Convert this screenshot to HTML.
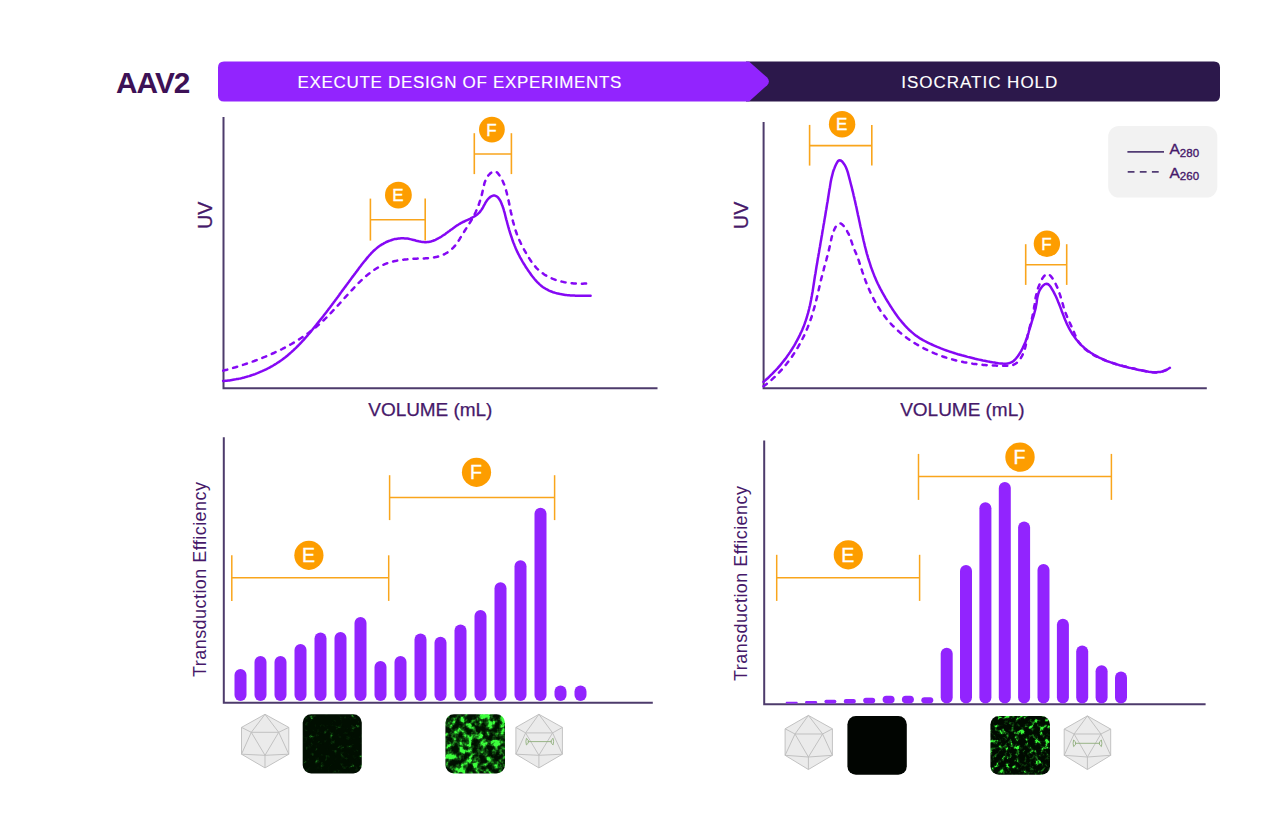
<!DOCTYPE html>
<html><head><meta charset="utf-8"><style>
html,body{margin:0;padding:0;background:#fff;width:1280px;height:818px;overflow:hidden}
svg{display:block;font-family:"Liberation Sans",sans-serif}
</style></head><body>
<svg width="1280" height="818" viewBox="0 0 1280 818">
<text x="116" y="92.6" font-size="29.8" font-weight="bold" fill="#3d1156" letter-spacing="-0.95">AAV2</text>
<path d="M746,61.4 H1214 Q1220,61.4 1220,67.4 V95.4 Q1220,101.4 1214,101.4 H746 Z" fill="#2c184b"/>
<path d="M224,61.4 L749,61.4 L767.2,77.6 Q770.6,81.4 767.2,85.2 L749,101.4 L224,101.4 Q218,101.4 218,95.4 L218,67.4 Q218,61.4 224,61.4 Z" fill="#9224fe"/>
<text x="297.6" y="87.8" font-size="17" fill="#fff" stroke="#fff" stroke-width="0.15" letter-spacing="0.67">EXECUTE DESIGN OF EXPERIMENTS</text>
<text x="901.2" y="87.8" font-size="17" fill="#fff" stroke="#fff" stroke-width="0.15" letter-spacing="0.99">ISOCRATIC HOLD</text>
<path d="M223.5,117 V388.3 H657.5" fill="none" stroke="#4d3b6c" stroke-width="2"/>
<text transform="translate(211.6,228.8) rotate(-90)" font-size="19.5" fill="#46196a" stroke="#46196a" stroke-width="0.3">UV</text>
<text x="368.3" y="416.2" font-size="19" fill="#46196a" stroke="#46196a" stroke-width="0.25" letter-spacing="-0.05">VOLUME (mL)</text>
<path d="M223.1,381.0 L224.3,380.9 L225.6,380.8 L226.8,380.7 L228.1,380.5 L229.4,380.4 L230.6,380.2 L231.9,380.0 L233.1,379.8 L234.4,379.6 L235.6,379.4 L236.8,379.1 L238.1,378.9 L239.3,378.6 L240.5,378.4 L241.8,378.1 L243.0,377.8 L244.2,377.5 L245.4,377.1 L246.7,376.8 L247.9,376.4 L249.1,376.1 L250.3,375.7 L251.5,375.3 L252.7,374.9 L253.9,374.5 L255.1,374.1 L256.2,373.6 L257.4,373.2 L258.6,372.7 L259.7,372.2 L260.9,371.7 L262.1,371.2 L263.2,370.7 L264.3,370.2 L265.5,369.6 L266.6,369.1 L267.7,368.5 L268.9,367.9 L270.0,367.3 L271.1,366.7 L272.2,366.1 L273.2,365.5 L274.3,364.8 L275.4,364.2 L276.5,363.5 L277.5,362.8 L278.6,362.1 L279.6,361.4 L280.6,360.7 L281.7,360.0 L282.7,359.3 L283.7,358.5 L284.7,357.7 L285.7,357.0 L286.6,356.2 L287.6,355.4 L288.6,354.6 L289.5,353.8 L290.5,352.9 L291.4,352.1 L292.3,351.3 L293.3,350.4 L294.2,349.5 L295.1,348.7 L296.0,347.8 L296.9,346.9 L297.8,346.0 L298.7,345.1 L299.6,344.2 L300.4,343.3 L301.3,342.4 L302.2,341.4 L303.0,340.5 L303.9,339.6 L304.7,338.6 L305.6,337.7 L306.4,336.7 L307.2,335.8 L308.1,334.8 L308.9,333.8 L309.7,332.9 L310.5,331.9 L311.3,330.9 L312.1,330.0 L312.9,329.0 L313.7,328.0 L314.5,327.0 L315.3,326.0 L316.1,325.1 L316.9,324.1 L317.7,323.1 L318.5,322.1 L319.3,321.1 L320.1,320.1 L320.9,319.1 L321.6,318.2 L322.4,317.2 L323.2,316.2 L323.9,315.2 L324.7,314.2 L325.5,313.2 L326.3,312.2 L327.0,311.2 L327.8,310.2 L328.5,309.2 L329.3,308.2 L330.1,307.2 L330.8,306.2 L331.6,305.2 L332.3,304.2 L333.1,303.2 L333.8,302.2 L334.6,301.2 L335.3,300.2 L336.1,299.2 L336.8,298.2 L337.6,297.2 L338.3,296.2 L339.1,295.2 L339.8,294.1 L340.6,293.1 L341.3,292.1 L342.0,291.1 L342.8,290.1 L343.5,289.1 L344.3,288.1 L345.0,287.1 L345.8,286.1 L346.5,285.0 L347.3,284.0 L348.0,283.0 L348.8,282.0 L349.5,281.0 L350.2,280.0 L351.0,279.0 L351.7,277.9 L352.5,276.9 L353.3,275.9 L354.0,274.9 L354.8,273.9 L355.5,272.9 L356.3,271.9 L357.0,270.9 L357.8,269.9 L358.6,268.8 L359.3,267.8 L360.1,266.8 L360.9,265.8 L361.6,264.8 L362.4,263.8 L363.2,262.8 L364.0,261.8 L364.8,260.8 L365.6,259.9 L366.4,258.9 L367.2,257.9 L368.0,256.9 L368.8,256.0 L369.6,255.0 L370.5,254.1 L371.3,253.2 L372.2,252.3 L373.1,251.4 L374.0,250.5 L374.9,249.7 L375.9,248.9 L376.8,248.1 L377.8,247.3 L378.8,246.5 L379.8,245.8 L380.9,245.1 L382.0,244.4 L383.1,243.8 L384.2,243.1 L385.3,242.6 L386.4,242.0 L387.6,241.5 L388.8,241.0 L390.0,240.6 L391.2,240.2 L392.4,239.8 L393.6,239.4 L394.8,239.1 L396.1,238.9 L397.3,238.7 L398.6,238.5 L399.8,238.4 L401.1,238.3 L402.3,238.3 L403.6,238.3 L404.9,238.4 L406.1,238.5 L407.4,238.6 L408.7,238.8 L409.9,239.1 L411.2,239.4 L412.4,239.7 L413.7,240.0 L415.0,240.3 L416.2,240.7 L417.4,241.0 L418.7,241.3 L419.9,241.5 L421.2,241.8 L422.4,242.0 L423.6,242.1 L424.8,242.2 L426.0,242.2 L427.3,242.1 L428.5,242.0 L429.7,241.7 L430.9,241.5 L432.0,241.1 L433.2,240.7 L434.4,240.3 L435.5,239.8 L436.7,239.2 L437.8,238.6 L438.9,238.0 L440.1,237.4 L441.2,236.7 L442.2,236.0 L443.3,235.3 L444.4,234.6 L445.4,233.9 L446.4,233.1 L447.4,232.4 L448.5,231.6 L449.5,230.9 L450.5,230.1 L451.5,229.4 L452.5,228.7 L453.5,227.9 L454.5,227.2 L455.5,226.5 L456.5,225.8 L457.6,225.1 L458.6,224.5 L459.7,223.8 L460.8,223.2 L461.9,222.6 L463.0,222.0 L464.2,221.5 L465.3,220.9 L466.5,220.4 L467.7,219.9 L468.8,219.3 L470.0,218.8 L471.1,218.2 L472.2,217.6 L473.3,217.0 L474.4,216.4 L475.5,215.7 L476.5,215.0 L477.5,214.2 L478.4,213.4 L479.3,212.6 L480.1,211.6 L480.9,210.6 L481.6,209.6 L482.3,208.5 L483.0,207.3 L483.6,206.2 L484.2,205.0 L484.9,203.8 L485.5,202.7 L486.2,201.6 L486.9,200.5 L487.7,199.5 L488.5,198.5 L489.4,197.7 L490.4,196.9 L491.4,196.3 L492.4,195.9 L493.5,195.6 L494.5,195.6 L495.6,195.9 L496.5,196.3 L497.5,197.0 L498.3,197.8 L499.1,198.9 L499.8,200.0 L500.5,201.2 L501.1,202.5 L501.6,203.7 L502.1,205.0 L502.6,206.2 L503.0,207.5 L503.4,208.7 L503.8,209.9 L504.1,211.1 L504.5,212.3 L504.8,213.5 L505.1,214.8 L505.4,216.0 L505.7,217.2 L506.0,218.4 L506.3,219.6 L506.7,220.8 L507.0,222.0 L507.3,223.2 L507.6,224.4 L508.0,225.6 L508.3,226.9 L508.7,228.1 L509.0,229.3 L509.4,230.5 L509.7,231.7 L510.1,232.9 L510.5,234.1 L510.9,235.3 L511.3,236.5 L511.7,237.7 L512.1,238.9 L512.5,240.1 L512.9,241.3 L513.3,242.4 L513.8,243.6 L514.3,244.8 L514.7,245.9 L515.2,247.1 L515.7,248.3 L516.2,249.4 L516.7,250.5 L517.2,251.7 L517.8,252.8 L518.3,253.9 L518.9,255.0 L519.5,256.1 L520.1,257.3 L520.7,258.3 L521.3,259.4 L521.9,260.5 L522.5,261.6 L523.2,262.7 L523.8,263.8 L524.5,264.8 L525.2,265.9 L525.8,267.0 L526.5,268.0 L527.3,269.1 L528.0,270.2 L528.7,271.2 L529.4,272.3 L530.2,273.3 L530.9,274.4 L531.7,275.4 L532.5,276.5 L533.3,277.5 L534.1,278.5 L534.9,279.5 L535.7,280.4 L536.6,281.4 L537.5,282.3 L538.4,283.2 L539.3,284.1 L540.2,284.9 L541.2,285.7 L542.1,286.5 L543.1,287.2 L544.2,287.9 L545.2,288.5 L546.3,289.2 L547.4,289.7 L548.5,290.3 L549.6,290.8 L550.7,291.3 L551.9,291.7 L553.0,292.2 L554.2,292.5 L555.4,292.9 L556.6,293.2 L557.9,293.6 L559.1,293.8 L560.3,294.1 L561.6,294.3 L562.8,294.5 L564.1,294.7 L565.4,294.9 L566.6,295.1 L567.9,295.2 L569.2,295.3 L570.5,295.4 L571.8,295.5 L573.1,295.6 L574.3,295.6 L575.6,295.7 L576.9,295.7 L578.2,295.8 L579.4,295.8 L580.7,295.8 L582.0,295.8 L583.2,295.8 L584.5,295.8 L585.7,295.7 L586.9,295.7 L588.2,295.7 L589.4,295.7 L590.6,295.7" fill="none" stroke="#8508f4" stroke-width="2.5" stroke-linecap="round"/>
<path d="M223.2,370.7 L224.4,370.3 L225.7,370.0 L226.9,369.7 L228.1,369.3 L229.4,369.0 L230.6,368.6 L231.9,368.3 L233.1,367.9 L234.4,367.5 L235.6,367.2 L236.9,366.8 L238.1,366.4 L239.4,366.0 L240.6,365.6 L241.9,365.2 L243.1,364.8 L244.4,364.4 L245.6,364.0 L246.8,363.6 L248.1,363.2 L249.3,362.8 L250.6,362.3 L251.8,361.9 L253.1,361.4 L254.3,361.0 L255.5,360.5 L256.8,360.1 L258.0,359.6 L259.2,359.1 L260.5,358.7 L261.7,358.2 L262.9,357.7 L264.1,357.2 L265.4,356.7 L266.6,356.2 L267.8,355.7 L269.0,355.1 L270.2,354.6 L271.4,354.1 L272.6,353.5 L273.8,353.0 L275.0,352.4 L276.2,351.9 L277.4,351.3 L278.6,350.7 L279.8,350.2 L281.0,349.6 L282.2,349.0 L283.3,348.4 L284.5,347.8 L285.7,347.2 L286.8,346.5 L288.0,345.9 L289.1,345.3 L290.3,344.6 L291.4,344.0 L292.6,343.3 L293.7,342.7 L294.8,342.0 L296.0,341.3 L297.1,340.6 L298.2,339.9 L299.3,339.2 L300.4,338.5 L301.5,337.8 L302.6,337.1 L303.7,336.4 L304.7,335.6 L305.8,334.9 L306.9,334.1 L307.9,333.4 L309.0,332.6 L310.0,331.8 L311.1,331.0 L312.1,330.2 L313.1,329.4 L314.1,328.6 L315.1,327.8 L316.1,327.0 L317.1,326.1 L318.1,325.3 L319.1,324.4 L320.1,323.6 L321.0,322.7 L322.0,321.8 L322.9,320.9 L323.9,320.0 L324.8,319.1 L325.8,318.2 L326.7,317.3 L327.6,316.4 L328.5,315.5 L329.4,314.5 L330.3,313.6 L331.2,312.6 L332.1,311.7 L333.0,310.7 L333.9,309.8 L334.8,308.8 L335.7,307.9 L336.6,306.9 L337.5,305.9 L338.4,305.0 L339.2,304.0 L340.1,303.0 L341.0,302.0 L341.9,301.0 L342.8,300.1 L343.6,299.1 L344.5,298.1 L345.4,297.1 L346.3,296.1 L347.2,295.2 L348.1,294.2 L349.0,293.2 L349.9,292.2 L350.8,291.2 L351.7,290.3 L352.6,289.3 L353.5,288.3 L354.4,287.4 L355.3,286.4 L356.2,285.4 L357.2,284.5 L358.1,283.5 L359.0,282.6 L360.0,281.7 L361.0,280.7 L361.9,279.8 L362.9,278.9 L363.9,278.0 L364.9,277.2 L365.8,276.3 L366.8,275.4 L367.9,274.6 L368.9,273.8 L369.9,273.0 L370.9,272.2 L372.0,271.4 L373.1,270.7 L374.1,269.9 L375.2,269.2 L376.3,268.5 L377.4,267.9 L378.5,267.2 L379.6,266.6 L380.8,266.0 L381.9,265.4 L383.1,264.9 L384.3,264.4 L385.5,263.9 L386.7,263.4 L387.9,263.0 L389.1,262.6 L390.3,262.2 L391.6,261.8 L392.9,261.5 L394.1,261.2 L395.4,260.9 L396.7,260.7 L398.0,260.4 L399.3,260.2 L400.6,260.0 L401.9,259.8 L403.3,259.7 L404.6,259.5 L405.9,259.4 L407.2,259.3 L408.6,259.1 L409.9,259.0 L411.3,258.9 L412.6,258.9 L413.9,258.8 L415.3,258.7 L416.6,258.7 L417.9,258.6 L419.3,258.6 L420.6,258.5 L421.9,258.5 L423.2,258.4 L424.5,258.4 L425.8,258.3 L427.1,258.2 L428.4,258.1 L429.7,258.0 L431.0,257.9 L432.2,257.7 L433.5,257.5 L434.7,257.3 L436.0,257.1 L437.2,256.8 L438.5,256.5 L439.7,256.1 L440.9,255.7 L442.1,255.2 L443.3,254.7 L444.5,254.2 L445.6,253.5 L446.8,252.9 L448.0,252.1 L449.1,251.3 L450.2,250.5 L451.3,249.6 L452.3,248.6 L453.3,247.7 L454.2,246.7 L455.1,245.7 L455.9,244.6 L456.7,243.6 L457.4,242.5 L458.1,241.5 L458.8,240.4 L459.5,239.3 L460.1,238.2 L460.8,237.1 L461.4,236.0 L462.1,234.9 L462.8,233.8 L463.5,232.7 L464.2,231.6 L464.9,230.5 L465.6,229.4 L466.3,228.3 L467.0,227.1 L467.8,226.0 L468.5,224.9 L469.2,223.8 L469.9,222.6 L470.6,221.5 L471.3,220.4 L472.0,219.2 L472.6,218.1 L473.2,217.0 L473.8,215.8 L474.4,214.7 L475.0,213.5 L475.6,212.3 L476.1,211.1 L476.6,210.0 L477.2,208.8 L477.6,207.6 L478.1,206.4 L478.6,205.2 L479.0,204.0 L479.4,202.7 L479.8,201.5 L480.2,200.3 L480.6,199.0 L481.0,197.7 L481.3,196.5 L481.7,195.2 L482.0,193.9 L482.3,192.6 L482.6,191.3 L482.9,190.0 L483.2,188.6 L483.4,187.3 L483.8,186.0 L484.1,184.7 L484.4,183.4 L484.8,182.1 L485.3,180.9 L485.8,179.7 L486.3,178.5 L487.0,177.4 L487.7,176.3 L488.5,175.2 L489.4,174.3 L490.4,173.3 L491.5,172.5 L492.6,171.8 L493.8,171.4 L494.9,171.3 L495.9,171.7 L496.9,172.3 L497.8,173.2 L498.6,174.2 L499.4,175.3 L500.1,176.4 L500.8,177.5 L501.5,178.6 L502.1,179.8 L502.7,181.0 L503.2,182.2 L503.7,183.4 L504.2,184.6 L504.7,185.8 L505.1,187.1 L505.5,188.4 L505.9,189.6 L506.2,190.9 L506.6,192.2 L506.9,193.5 L507.2,194.8 L507.5,196.1 L507.8,197.4 L508.1,198.7 L508.4,200.0 L508.7,201.3 L509.0,202.6 L509.2,203.9 L509.5,205.2 L509.8,206.5 L510.0,207.8 L510.3,209.1 L510.6,210.4 L510.8,211.7 L511.1,212.9 L511.4,214.2 L511.7,215.5 L511.9,216.8 L512.2,218.0 L512.5,219.3 L512.8,220.6 L513.1,221.8 L513.5,223.1 L513.8,224.3 L514.1,225.6 L514.5,226.8 L514.9,228.1 L515.3,229.3 L515.6,230.5 L516.1,231.8 L516.5,233.0 L516.9,234.2 L517.4,235.4 L517.9,236.6 L518.4,237.8 L518.9,239.0 L519.4,240.2 L520.0,241.4 L520.5,242.6 L521.1,243.8 L521.7,244.9 L522.3,246.1 L522.9,247.3 L523.5,248.5 L524.1,249.6 L524.8,250.8 L525.4,252.0 L526.1,253.1 L526.8,254.3 L527.4,255.4 L528.1,256.6 L528.8,257.7 L529.6,258.9 L530.3,260.0 L531.0,261.1 L531.8,262.2 L532.6,263.2 L533.4,264.3 L534.2,265.3 L535.0,266.3 L535.9,267.3 L536.8,268.3 L537.7,269.2 L538.7,270.1 L539.6,270.9 L540.6,271.8 L541.6,272.6 L542.7,273.3 L543.7,274.1 L544.8,274.8 L545.9,275.4 L547.1,276.1 L548.2,276.7 L549.4,277.3 L550.6,277.8 L551.8,278.4 L553.0,278.9 L554.2,279.3 L555.4,279.8 L556.7,280.2 L558.0,280.6 L559.2,281.0 L560.5,281.3 L561.8,281.6 L563.1,281.9 L564.4,282.2 L565.7,282.4 L567.0,282.7 L568.4,282.9 L569.7,283.0 L571.0,283.2 L572.3,283.3 L573.7,283.5 L575.0,283.5 L576.3,283.6 L577.7,283.7 L579.0,283.7 L580.3,283.7 L581.6,283.7 L582.9,283.7 L584.2,283.6 L585.5,283.6 L586.8,283.5 L588.0,283.4 L589.3,283.3 L590.5,283.2" fill="none" stroke="#8508f4" stroke-width="2.5" stroke-dasharray="4.2 6.1" stroke-linecap="round"/>
<g stroke="#f9a51c" stroke-width="1.6" fill="none"><line x1="370.4" y1="198.6" x2="370.4" y2="240.6"/><line x1="425.2" y1="198.6" x2="425.2" y2="240.6"/><line x1="370.4" y1="219.7" x2="425.2" y2="219.7"/></g><circle cx="398.4" cy="195.1" r="13.4" fill="#fd9d00"/><text x="397.9" y="201.3" text-anchor="middle" font-size="17" fill="#fff" stroke="#fff" stroke-width="0.35">E</text>
<g stroke="#f9a51c" stroke-width="1.6" fill="none"><line x1="474.3" y1="133.2" x2="474.3" y2="174.1"/><line x1="511.4" y1="133.2" x2="511.4" y2="174.1"/><line x1="474.3" y1="154" x2="511.4" y2="154"/></g><circle cx="491.9" cy="129.6" r="12.9" fill="#fd9d00"/><text x="491.4" y="135.8" text-anchor="middle" font-size="17" fill="#fff" stroke="#fff" stroke-width="0.35">F</text>
<path d="M763.6,122 V388.2 H1206.8" fill="none" stroke="#4d3b6c" stroke-width="2"/>
<text transform="translate(748.4,228.9) rotate(-90)" font-size="19.5" fill="#46196a" stroke="#46196a" stroke-width="0.3">UV</text>
<text x="900.2" y="416.1" font-size="19" fill="#46196a" stroke="#46196a" stroke-width="0.25" letter-spacing="-0.02">VOLUME (mL)</text>
<path d="M763.5,381.9 L765.0,380.6 L766.5,379.3 L768.0,378.0 L769.4,376.6 L770.8,375.2 L772.2,373.9 L773.6,372.4 L775.0,371.0 L776.4,369.5 L777.7,368.1 L779.0,366.6 L780.3,365.1 L781.6,363.5 L782.8,362.0 L784.1,360.4 L785.3,358.9 L786.5,357.3 L787.6,355.6 L788.8,354.0 L789.9,352.4 L791.0,350.7 L792.1,349.0 L793.1,347.3 L794.2,345.6 L795.2,343.9 L796.1,342.2 L797.1,340.4 L798.0,338.7 L798.9,336.9 L799.8,335.1 L800.6,333.3 L801.5,331.5 L802.3,329.7 L803.0,327.9 L803.8,326.0 L804.5,324.2 L805.1,322.3 L805.8,320.4 L806.4,318.6 L807.0,316.7 L807.5,314.8 L808.1,312.9 L808.6,310.9 L809.1,309.0 L809.5,307.1 L810.0,305.2 L810.4,303.2 L810.8,301.3 L811.2,299.3 L811.5,297.4 L811.9,295.4 L812.2,293.5 L812.6,291.5 L812.9,289.6 L813.2,287.6 L813.5,285.6 L813.8,283.7 L814.1,281.7 L814.4,279.7 L814.7,277.8 L815.0,275.8 L815.4,273.8 L815.7,271.9 L816.0,269.9 L816.3,268.0 L816.6,266.0 L817.0,264.1 L817.3,262.1 L817.6,260.2 L817.9,258.2 L818.3,256.3 L818.6,254.3 L819.0,252.4 L819.3,250.4 L819.6,248.4 L820.0,246.5 L820.3,244.5 L820.6,242.6 L821.0,240.6 L821.3,238.7 L821.6,236.7 L822.0,234.7 L822.3,232.8 L822.6,230.8 L823.0,228.9 L823.3,226.9 L823.6,224.9 L824.0,223.0 L824.3,221.0 L824.6,219.1 L825.0,217.1 L825.3,215.2 L825.6,213.2 L825.9,211.2 L826.3,209.3 L826.6,207.3 L826.9,205.4 L827.2,203.4 L827.6,201.5 L827.9,199.5 L828.2,197.5 L828.5,195.6 L828.8,193.6 L829.1,191.7 L829.4,189.7 L829.8,187.8 L830.1,185.9 L830.4,183.9 L830.7,182.0 L831.1,180.0 L831.5,178.1 L832.0,176.1 L832.5,174.2 L833.0,172.2 L833.6,170.3 L834.4,168.4 L835.1,166.4 L836.0,164.5 L837.0,162.6 L838.1,161.0 L839.3,160.2 L840.7,160.4 L842.1,161.5 L843.5,163.2 L844.8,165.1 L845.8,167.0 L846.6,168.9 L847.3,170.8 L847.9,172.7 L848.4,174.6 L848.9,176.5 L849.4,178.4 L849.9,180.3 L850.4,182.2 L850.9,184.2 L851.4,186.1 L851.9,188.0 L852.3,189.9 L852.8,191.8 L853.3,193.8 L853.7,195.7 L854.2,197.6 L854.6,199.5 L855.1,201.5 L855.5,203.4 L855.9,205.3 L856.4,207.3 L856.8,209.2 L857.2,211.2 L857.6,213.1 L858.0,215.1 L858.5,217.0 L858.9,218.9 L859.3,220.9 L859.7,222.8 L860.1,224.8 L860.5,226.7 L861.0,228.7 L861.4,230.6 L861.8,232.5 L862.2,234.5 L862.7,236.4 L863.1,238.4 L863.5,240.3 L864.0,242.2 L864.5,244.2 L864.9,246.1 L865.4,248.0 L865.9,249.9 L866.4,251.9 L866.9,253.8 L867.5,255.7 L868.0,257.6 L868.6,259.5 L869.2,261.4 L869.8,263.2 L870.4,265.1 L871.0,267.0 L871.7,268.9 L872.4,270.7 L873.1,272.6 L873.8,274.4 L874.5,276.3 L875.3,278.1 L876.1,279.9 L876.9,281.7 L877.7,283.5 L878.6,285.3 L879.5,287.1 L880.4,288.9 L881.4,290.6 L882.3,292.4 L883.3,294.1 L884.3,295.8 L885.3,297.6 L886.3,299.3 L887.3,301.0 L888.3,302.6 L889.4,304.3 L890.4,306.0 L891.5,307.6 L892.5,309.3 L893.6,310.9 L894.7,312.5 L895.9,314.2 L897.0,315.8 L898.2,317.4 L899.4,319.0 L900.7,320.5 L902.0,322.1 L903.3,323.6 L904.6,325.1 L906.0,326.6 L907.4,328.0 L908.8,329.5 L910.2,330.8 L911.7,332.1 L913.2,333.4 L914.8,334.7 L916.4,335.9 L918.0,337.0 L919.6,338.1 L921.3,339.1 L923.0,340.1 L924.7,341.0 L926.4,341.9 L928.2,342.8 L930.0,343.7 L931.8,344.5 L933.6,345.3 L935.4,346.1 L937.2,346.9 L939.1,347.6 L940.9,348.4 L942.8,349.1 L944.7,349.8 L946.5,350.5 L948.4,351.1 L950.3,351.8 L952.2,352.4 L954.1,353.0 L956.0,353.6 L957.9,354.2 L959.9,354.7 L961.8,355.3 L963.7,355.8 L965.6,356.3 L967.5,356.9 L969.5,357.3 L971.4,357.8 L973.3,358.3 L975.2,358.8 L977.1,359.2 L979.0,359.6 L981.0,360.0 L982.9,360.5 L984.8,360.8 L986.7,361.2 L988.6,361.6 L990.5,361.9 L992.5,362.3 L994.5,362.6 L996.5,362.9 L998.5,363.2 L1000.6,363.4 L1002.7,363.6 L1004.8,363.7 L1006.8,363.6 L1008.7,363.3 L1010.6,362.7 L1012.2,361.9 L1013.8,360.7 L1015.2,359.3 L1016.6,357.8 L1017.8,356.2 L1019.0,354.5 L1020.0,352.8 L1021.1,351.1 L1022.0,349.4 L1022.9,347.6 L1023.7,345.8 L1024.5,344.0 L1025.3,342.2 L1026.0,340.3 L1026.6,338.4 L1027.3,336.6 L1027.9,334.7 L1028.5,332.8 L1029.0,330.9 L1029.6,329.0 L1030.2,327.1 L1030.8,325.2 L1031.4,323.2 L1031.9,321.3 L1032.5,319.4 L1033.1,317.5 L1033.7,315.6 L1034.2,313.7 L1034.7,311.8 L1035.2,309.9 L1035.7,307.9 L1036.0,306.0 L1036.4,304.1 L1036.7,302.2 L1036.9,300.2 L1037.2,298.3 L1037.6,296.4 L1038.1,294.4 L1038.7,292.5 L1039.5,290.6 L1040.6,288.7 L1041.9,286.8 L1043.5,285.2 L1045.0,284.1 L1046.6,283.7 L1048.1,284.2 L1049.4,285.3 L1050.7,286.9 L1051.8,288.8 L1052.9,290.7 L1054.0,292.6 L1054.9,294.5 L1055.8,296.3 L1056.7,298.2 L1057.5,300.1 L1058.2,301.9 L1059.0,303.7 L1059.7,305.6 L1060.4,307.4 L1061.1,309.2 L1061.7,311.0 L1062.4,312.8 L1063.1,314.6 L1063.8,316.4 L1064.5,318.2 L1065.2,320.0 L1066.0,321.8 L1066.7,323.6 L1067.6,325.3 L1068.5,327.1 L1069.4,328.9 L1070.4,330.7 L1071.4,332.4 L1072.5,334.2 L1073.7,335.9 L1074.9,337.6 L1076.1,339.2 L1077.4,340.8 L1078.7,342.4 L1080.1,343.9 L1081.5,345.3 L1083.0,346.7 L1084.4,348.0 L1086.0,349.2 L1087.5,350.4 L1089.1,351.6 L1090.7,352.7 L1092.4,353.8 L1094.0,354.8 L1095.7,355.7 L1097.5,356.7 L1099.2,357.6 L1101.0,358.4 L1102.8,359.2 L1104.6,360.0 L1106.4,360.8 L1108.3,361.5 L1110.1,362.1 L1112.0,362.8 L1113.9,363.4 L1115.8,364.0 L1117.7,364.6 L1119.6,365.2 L1121.5,365.7 L1123.4,366.2 L1125.4,366.7 L1127.3,367.2 L1129.2,367.7 L1131.2,368.1 L1133.1,368.6 L1135.1,369.0 L1137.0,369.5 L1139.0,369.9 L1140.9,370.3 L1142.9,370.7 L1144.8,371.1 L1146.8,371.4 L1148.7,371.8 L1150.7,372.0 L1152.6,372.2 L1154.6,372.3 L1156.5,372.3 L1158.4,372.1 L1160.4,371.9 L1162.3,371.4 L1164.2,370.8 L1166.1,370.0 L1168.0,369.0 L1169.9,367.8" fill="none" stroke="#8508f4" stroke-width="2.5" stroke-linecap="round"/>
<path d="M763.5,386.3 L764.9,385.2 L766.3,384.2 L767.7,383.0 L769.1,381.9 L770.4,380.8 L771.8,379.6 L773.1,378.4 L774.4,377.2 L775.6,376.0 L776.9,374.7 L778.1,373.5 L779.4,372.2 L780.6,370.9 L781.8,369.6 L782.9,368.3 L784.1,366.9 L785.2,365.5 L786.3,364.2 L787.4,362.8 L788.5,361.4 L789.6,359.9 L790.6,358.5 L791.6,357.1 L792.7,355.6 L793.6,354.1 L794.6,352.6 L795.6,351.1 L796.5,349.6 L797.4,348.1 L798.3,346.6 L799.2,345.0 L800.1,343.5 L800.9,341.9 L801.7,340.3 L802.5,338.8 L803.3,337.2 L804.1,335.6 L804.9,334.0 L805.6,332.3 L806.3,330.7 L807.0,329.1 L807.7,327.4 L808.3,325.8 L809.0,324.1 L809.6,322.5 L810.2,320.8 L810.8,319.1 L811.4,317.5 L811.9,315.8 L812.4,314.1 L813.0,312.4 L813.4,310.7 L813.9,309.0 L814.4,307.3 L814.9,305.6 L815.3,303.9 L815.7,302.2 L816.2,300.5 L816.6,298.8 L817.0,297.1 L817.4,295.4 L817.8,293.7 L818.2,291.9 L818.6,290.2 L819.0,288.5 L819.4,286.8 L819.8,285.0 L820.2,283.3 L820.6,281.6 L821.0,279.9 L821.4,278.2 L821.9,276.4 L822.3,274.7 L822.7,273.0 L823.2,271.3 L823.7,269.6 L824.1,267.8 L824.6,266.1 L825.1,264.4 L825.5,262.7 L826.0,261.0 L826.5,259.3 L826.9,257.6 L827.4,255.9 L827.8,254.2 L828.3,252.5 L828.7,250.8 L829.1,249.1 L829.5,247.4 L829.9,245.7 L830.3,244.0 L830.6,242.3 L831.0,240.6 L831.3,238.9 L831.7,237.2 L832.2,235.4 L832.7,233.7 L833.3,231.9 L834.1,230.1 L834.9,228.3 L835.9,226.5 L837.0,225.0 L838.1,223.9 L839.4,223.4 L840.7,223.5 L842.0,224.3 L843.3,225.5 L844.6,227.0 L845.8,228.8 L846.8,230.5 L847.7,232.3 L848.6,233.9 L849.3,235.6 L849.9,237.2 L850.5,238.9 L851.1,240.5 L851.7,242.1 L852.2,243.7 L852.8,245.3 L853.4,246.9 L854.1,248.6 L854.7,250.2 L855.4,251.9 L856.1,253.5 L856.7,255.2 L857.4,256.9 L858.0,258.5 L858.6,260.2 L859.2,261.9 L859.7,263.5 L860.3,265.2 L860.8,266.9 L861.3,268.5 L861.9,270.2 L862.4,271.8 L863.0,273.5 L863.5,275.2 L864.1,276.8 L864.7,278.5 L865.3,280.1 L865.9,281.8 L866.6,283.5 L867.3,285.1 L867.9,286.8 L868.6,288.4 L869.4,290.1 L870.1,291.7 L870.8,293.3 L871.6,294.9 L872.4,296.5 L873.2,298.1 L874.0,299.7 L874.9,301.3 L875.8,302.9 L876.7,304.4 L877.6,305.9 L878.5,307.5 L879.5,309.0 L880.4,310.5 L881.4,311.9 L882.4,313.4 L883.5,314.8 L884.6,316.2 L885.6,317.6 L886.7,319.0 L887.9,320.4 L889.0,321.7 L890.2,323.0 L891.4,324.3 L892.6,325.6 L893.9,326.8 L895.1,328.0 L896.4,329.2 L897.7,330.4 L899.0,331.6 L900.3,332.8 L901.7,333.9 L903.0,335.0 L904.4,336.1 L905.8,337.1 L907.2,338.2 L908.7,339.2 L910.1,340.2 L911.6,341.2 L913.1,342.2 L914.6,343.1 L916.1,344.0 L917.6,344.9 L919.1,345.8 L920.7,346.7 L922.2,347.5 L923.8,348.4 L925.4,349.2 L927.0,349.9 L928.6,350.7 L930.2,351.5 L931.8,352.2 L933.4,352.9 L935.1,353.6 L936.7,354.2 L938.4,354.9 L940.1,355.5 L941.7,356.1 L943.4,356.7 L945.1,357.3 L946.8,357.8 L948.5,358.3 L950.2,358.8 L951.9,359.3 L953.6,359.8 L955.3,360.2 L957.1,360.7 L958.8,361.1 L960.5,361.5 L962.2,361.8 L964.0,362.2 L965.7,362.5 L967.5,362.8 L969.2,363.1 L970.9,363.4 L972.7,363.7 L974.4,363.9 L976.2,364.1 L977.9,364.4 L979.7,364.5 L981.4,364.7 L983.2,364.9 L985.0,365.0 L986.7,365.2 L988.5,365.3 L990.3,365.4 L992.0,365.5 L993.8,365.6 L995.6,365.6 L997.4,365.7 L999.2,365.7 L1000.9,365.7 L1002.7,365.8 L1004.5,365.8 L1006.3,365.7 L1008.1,365.7 L1009.8,365.6 L1011.5,365.3 L1013.2,364.9 L1014.7,364.2 L1016.2,363.3 L1017.6,362.1 L1018.8,360.8 L1020.0,359.3 L1021.0,357.7 L1021.9,356.1 L1022.8,354.4 L1023.5,352.7 L1024.1,351.0 L1024.7,349.3 L1025.2,347.6 L1025.6,345.9 L1026.0,344.2 L1026.4,342.5 L1026.7,340.8 L1027.0,339.1 L1027.4,337.4 L1027.7,335.6 L1028.1,333.9 L1028.5,332.2 L1029.0,330.4 L1029.4,328.7 L1029.8,326.9 L1030.3,325.2 L1030.7,323.5 L1031.2,321.7 L1031.6,320.0 L1032.0,318.3 L1032.4,316.6 L1032.8,314.9 L1033.1,313.2 L1033.5,311.5 L1033.7,309.9 L1034.0,308.2 L1034.2,306.6 L1034.5,305.0 L1034.7,303.4 L1034.9,301.7 L1035.2,300.1 L1035.5,298.4 L1035.8,296.7 L1036.2,295.0 L1036.6,293.2 L1037.1,291.4 L1037.6,289.5 L1038.2,287.6 L1039.0,285.7 L1039.8,283.7 L1040.7,281.6 L1041.7,279.7 L1042.7,277.9 L1043.9,276.3 L1045.0,275.1 L1046.2,274.3 L1047.4,274.1 L1048.6,274.4 L1049.9,275.2 L1051.0,276.4 L1052.2,277.9 L1053.3,279.6 L1054.3,281.3 L1055.2,283.0 L1056.0,284.7 L1056.8,286.4 L1057.6,288.1 L1058.2,289.7 L1058.9,291.4 L1059.4,293.1 L1060.0,294.8 L1060.5,296.4 L1061.0,298.1 L1061.5,299.8 L1062.0,301.4 L1062.5,303.1 L1063.0,304.8 L1063.4,306.4 L1063.9,308.1 L1064.5,309.7 L1065.0,311.3 L1065.6,313.0 L1066.3,314.6 L1066.9,316.3 L1067.6,317.9 L1068.3,319.5 L1069.0,321.2 L1069.8,322.8 L1070.5,324.4 L1071.3,326.1 L1072.0,327.7 L1072.7,329.4 L1073.5,331.0 L1074.2,332.7 L1074.8,334.3 L1075.6,336.0 L1076.3,337.6 L1077.1,339.2 L1077.9,340.7 L1078.8,342.2 L1079.9,343.6 L1080.9,345.0 L1082.1,346.3 L1083.3,347.5 L1084.6,348.7 L1086.0,349.9 L1087.4,351.0 L1088.9,352.0 L1090.4,353.0 L1091.9,354.0 L1093.5,354.9 L1095.0,355.8 L1096.6,356.6 L1098.3,357.4 L1099.9,358.2 L1101.5,358.9 L1103.2,359.6 L1104.8,360.3 L1106.5,360.9 L1108.1,361.5 L1109.8,362.1 L1111.5,362.7 L1113.2,363.2 L1114.9,363.8 L1116.5,364.3 L1118.2,364.7 L1119.9,365.2 L1121.6,365.7 L1123.4,366.1 L1125.1,366.5 L1126.8,367.0 L1128.5,367.4 L1130.2,367.8 L1132.0,368.2 L1133.7,368.5 L1135.4,368.9 L1137.1,369.3 L1138.9,369.7 L1140.6,370.1 L1142.3,370.4 L1144.1,370.8 L1145.8,371.2 L1147.6,371.5 L1149.3,371.8 L1151.0,372.1 L1152.8,372.3 L1154.5,372.4 L1156.2,372.4 L1158.0,372.3 L1159.7,372.2 L1161.4,371.8 L1163.1,371.4 L1164.8,370.7 L1166.5,369.9 L1168.2,369.0 L1169.9,367.8" fill="none" stroke="#8508f4" stroke-width="2.5" stroke-dasharray="4.2 6.1" stroke-linecap="round"/>
<g stroke="#f9a51c" stroke-width="1.6" fill="none"><line x1="809.6" y1="124.9" x2="809.6" y2="165.6"/><line x1="871.8" y1="124.9" x2="871.8" y2="165.6"/><line x1="809.6" y1="145.6" x2="871.8" y2="145.6"/></g><circle cx="842.1" cy="124.2" r="13.2" fill="#fd9d00"/><text x="841.6" y="130.4" text-anchor="middle" font-size="17" fill="#fff" stroke="#fff" stroke-width="0.35">E</text>
<g stroke="#f9a51c" stroke-width="1.6" fill="none"><line x1="1025.7" y1="244.2" x2="1025.7" y2="284.9"/><line x1="1066.7" y1="244.2" x2="1066.7" y2="284.9"/><line x1="1025.7" y1="264.7" x2="1066.7" y2="264.7"/></g><circle cx="1046.9" cy="243.8" r="13.2" fill="#fd9d00"/><text x="1046.4" y="250.0" text-anchor="middle" font-size="17" fill="#fff" stroke="#fff" stroke-width="0.35">F</text>
<rect x="1108.2" y="125.9" width="109.1" height="71.7" rx="11" fill="#f2f2f2"/>
<line x1="1127.4" y1="151.9" x2="1164" y2="151.9" stroke="#523c74" stroke-width="1.9"/>
<line x1="1127.7" y1="171.9" x2="1160" y2="171.9" stroke="#523c74" stroke-width="1.9" stroke-dasharray="6.8 5.3"/>
<text x="1169.5" y="154" font-size="15.5" fill="#46196a" stroke="#46196a" stroke-width="0.35">A<tspan font-size="11.5" dy="2.8">280</tspan></text>
<text x="1169.5" y="177.5" font-size="15.5" fill="#46196a" stroke="#46196a" stroke-width="0.35">A<tspan font-size="11.5" dy="2.5">260</tspan></text>
<path d="M223.8,437.2 V702.7 H652.8" fill="none" stroke="#4d3b6c" stroke-width="2"/>
<text transform="translate(206.1,677) rotate(-90)" font-size="18" fill="#46196a" letter-spacing="0.45">Transduction Efficiency</text>
<rect x="234.5" y="669.0" width="12" height="31.9" rx="6.0" fill="#9224fe"/><rect x="254.5" y="656.0" width="12" height="44.9" rx="6.0" fill="#9224fe"/><rect x="274.5" y="656.0" width="12" height="44.9" rx="6.0" fill="#9224fe"/><rect x="294.5" y="644.0" width="12" height="56.9" rx="6.0" fill="#9224fe"/><rect x="314.5" y="632.6" width="12" height="68.3" rx="6.0" fill="#9224fe"/><rect x="334.5" y="632.1" width="12" height="68.8" rx="6.0" fill="#9224fe"/><rect x="354.5" y="617.0" width="12" height="83.9" rx="6.0" fill="#9224fe"/><rect x="374.5" y="661.0" width="12" height="39.9" rx="6.0" fill="#9224fe"/><rect x="394.5" y="656.0" width="12" height="44.9" rx="6.0" fill="#9224fe"/><rect x="414.5" y="633.5" width="12" height="67.4" rx="6.0" fill="#9224fe"/><rect x="434.5" y="636.8" width="12" height="64.1" rx="6.0" fill="#9224fe"/><rect x="454.5" y="624.5" width="12" height="76.4" rx="6.0" fill="#9224fe"/><rect x="474.5" y="610.1" width="12" height="90.8" rx="6.0" fill="#9224fe"/><rect x="494.5" y="582.3" width="12" height="118.6" rx="6.0" fill="#9224fe"/><rect x="514.5" y="560.3" width="12" height="140.6" rx="6.0" fill="#9224fe"/><rect x="534.5" y="507.7" width="12" height="193.2" rx="6.0" fill="#9224fe"/><rect x="554.5" y="685.5" width="12" height="15.4" rx="6.0" fill="#9224fe"/><rect x="574.5" y="685.5" width="12" height="15.4" rx="6.0" fill="#9224fe"/>
<g stroke="#f9a51c" stroke-width="1.5" fill="none"><line x1="231.8" y1="555.3" x2="231.8" y2="600.9"/><line x1="388.7" y1="555.3" x2="388.7" y2="600.9"/><line x1="231.8" y1="577.8" x2="388.7" y2="577.8"/></g><circle cx="308.9" cy="555.3" r="14.6" fill="#fd9d00"/><text x="308.4" y="562.4" text-anchor="middle" font-size="19.5" fill="#fff" stroke="#fff" stroke-width="0.35">E</text>
<g stroke="#f9a51c" stroke-width="1.5" fill="none"><line x1="389.6" y1="475.2" x2="389.6" y2="520.1"/><line x1="554.6" y1="475.2" x2="554.6" y2="520.1"/><line x1="389.6" y1="497.6" x2="554.6" y2="497.6"/></g><circle cx="476.5" cy="472.3" r="14.6" fill="#fd9d00"/><text x="476.0" y="479.4" text-anchor="middle" font-size="19.5" fill="#fff" stroke="#fff" stroke-width="0.35">F</text>
<path d="M764.2,440.6 V704.3 H1205.6" fill="none" stroke="#4d3b6c" stroke-width="2"/>
<text transform="translate(747.4,681) rotate(-90)" font-size="18" fill="#46196a" letter-spacing="0.45">Transduction Efficiency</text>
<rect x="785.7" y="701.7" width="12" height="1.7" rx="0.8" fill="#9224fe"/><rect x="805.1" y="701.0" width="12" height="2.4" rx="1.2" fill="#9224fe"/><rect x="824.4" y="699.8" width="12" height="3.6" rx="1.8" fill="#9224fe"/><rect x="843.8" y="698.9" width="12" height="4.5" rx="2.2" fill="#9224fe"/><rect x="863.2" y="697.8" width="12" height="5.6" rx="2.8" fill="#9224fe"/><rect x="882.6" y="695.8" width="12" height="7.6" rx="3.8" fill="#9224fe"/><rect x="901.9" y="695.8" width="12" height="7.6" rx="3.8" fill="#9224fe"/><rect x="921.3" y="697.3" width="12" height="6.1" rx="3.1" fill="#9224fe"/><rect x="940.7" y="647.8" width="12" height="55.6" rx="6.0" fill="#9224fe"/><rect x="960.0" y="565.0" width="12" height="138.4" rx="6.0" fill="#9224fe"/><rect x="979.4" y="502.3" width="12" height="201.1" rx="6.0" fill="#9224fe"/><rect x="998.8" y="482.1" width="12" height="221.3" rx="6.0" fill="#9224fe"/><rect x="1018.1" y="521.5" width="12" height="181.9" rx="6.0" fill="#9224fe"/><rect x="1037.5" y="563.9" width="12" height="139.5" rx="6.0" fill="#9224fe"/><rect x="1056.9" y="618.7" width="12" height="84.7" rx="6.0" fill="#9224fe"/><rect x="1076.2" y="645.4" width="12" height="58.0" rx="6.0" fill="#9224fe"/><rect x="1095.6" y="665.3" width="12" height="38.1" rx="6.0" fill="#9224fe"/><rect x="1115.0" y="671.4" width="12" height="32.0" rx="6.0" fill="#9224fe"/>
<g stroke="#f9a51c" stroke-width="1.5" fill="none"><line x1="776.7" y1="554.8" x2="776.7" y2="600.9"/><line x1="919.6" y1="554.8" x2="919.6" y2="600.9"/><line x1="776.7" y1="577.8" x2="919.6" y2="577.8"/></g><circle cx="848.3" cy="554.8" r="14.6" fill="#fd9d00"/><text x="847.8" y="561.9" text-anchor="middle" font-size="19.5" fill="#fff" stroke="#fff" stroke-width="0.35">E</text>
<g stroke="#f9a51c" stroke-width="1.5" fill="none"><line x1="918.5" y1="453.9" x2="918.5" y2="499.9"/><line x1="1111.4" y1="453.9" x2="1111.4" y2="499.9"/><line x1="918.5" y1="476.4" x2="1111.4" y2="476.4"/></g><circle cx="1020" cy="457.1" r="14.7" fill="#fd9d00"/><text x="1019.5" y="464.2" text-anchor="middle" font-size="19.5" fill="#fff" stroke="#fff" stroke-width="0.35">F</text>
<polygon points="265.0,714.3 288.8,727.4 288.8,754.2 265.0,767.9 241.5,754.2 241.5,727.4" fill="#ebebeb" stroke="#c2c2c2" stroke-width="1"/><g stroke="#bfbfbf" stroke-width="0.95" fill="none"><line x1="265.0" y1="714.3" x2="251.3" y2="732.3"/><line x1="265.0" y1="714.3" x2="278.7" y2="732.3"/><line x1="241.5" y1="727.4" x2="251.3" y2="732.3"/><line x1="288.8" y1="727.4" x2="278.7" y2="732.3"/><line x1="251.3" y1="732.3" x2="278.7" y2="732.3"/><line x1="251.3" y1="732.3" x2="265.0" y2="755.3"/><line x1="278.7" y1="732.3" x2="265.0" y2="755.3"/><line x1="251.3" y1="732.3" x2="241.5" y2="754.2"/><line x1="278.7" y1="732.3" x2="288.8" y2="754.2"/><line x1="265.0" y1="755.3" x2="241.5" y2="754.2"/><line x1="265.0" y1="755.3" x2="288.8" y2="754.2"/><line x1="265.0" y1="755.3" x2="265.0" y2="767.9"/></g>
<filter id="fc1" x="0" y="0" width="100%" height="100%" color-interpolation-filters="sRGB">
<feTurbulence type="fractalNoise" baseFrequency="0.2" numOctaves="3" seed="11" result="n"/>
<feColorMatrix in="n" type="matrix" values="0 0 0 0 0  0 0 0 0 0  0 0 0 0 0  1 0 0 0 0" result="a"/>
<feComponentTransfer in="a" result="t"><feFuncA type="gamma" amplitude="2.0" exponent="8" offset="-0.01"/></feComponentTransfer>
<feGaussianBlur in="t" stdDeviation="0.5" result="tb"/>
<feFlood flood-color="#2cb02c" result="g"/>
<feComposite in="g" in2="tb" operator="in" result="gg"/>
<feFlood flood-color="#010e01" result="bg"/>
<feMerge><feMergeNode in="bg"/><feMergeNode in="gg"/></feMerge>
<feComposite in2="SourceGraphic" operator="in"/>
</filter><rect x="302.7" y="714.3" width="59.1" height="59.1" rx="8.5" fill="#000" filter="url(#fc1)"/>
<filter id="fc2" x="0" y="0" width="100%" height="100%" color-interpolation-filters="sRGB">
<feTurbulence type="fractalNoise" baseFrequency="0.15" numOctaves="3" seed="4" result="n"/>
<feColorMatrix in="n" type="matrix" values="0 0 0 0 0  0 0 0 0 0  0 0 0 0 0  1 0 0 0 0" result="a"/>
<feComponentTransfer in="a" result="t"><feFuncA type="gamma" amplitude="6" exponent="4.5" offset="-0.05"/></feComponentTransfer>
<feGaussianBlur in="t" stdDeviation="0.4" result="tb"/>
<feFlood flood-color="#3cff3c" result="g"/>
<feComposite in="g" in2="tb" operator="in" result="gg"/>
<feFlood flood-color="#010f01" result="bg"/>
<feMerge><feMergeNode in="bg"/><feMergeNode in="gg"/></feMerge>
<feComposite in2="SourceGraphic" operator="in"/>
</filter><rect x="445.4" y="714.3" width="59.6" height="59.1" rx="8.5" fill="#000" filter="url(#fc2)"/>
<polygon points="538.9,714.3 562.4,727.4 562.4,754.2 538.9,767.9 515.9,754.2 515.9,727.4" fill="#ebebeb" stroke="#c2c2c2" stroke-width="1"/><g stroke="#bfbfbf" stroke-width="0.95" fill="none"><line x1="538.9" y1="714.3" x2="525.6" y2="732.9"/><line x1="538.9" y1="714.3" x2="552.6" y2="732.9"/><line x1="515.9" y1="727.4" x2="525.6" y2="732.9"/><line x1="562.4" y1="727.4" x2="552.6" y2="732.9"/><line x1="525.6" y1="732.9" x2="552.6" y2="732.9"/><line x1="525.6" y1="732.9" x2="538.9" y2="755.3"/><line x1="552.6" y1="732.9" x2="538.9" y2="755.3"/><line x1="525.6" y1="732.9" x2="515.9" y2="754.2"/><line x1="552.6" y1="732.9" x2="562.4" y2="754.2"/><line x1="538.9" y1="755.3" x2="515.9" y2="754.2"/><line x1="538.9" y1="755.3" x2="562.4" y2="754.2"/><line x1="538.9" y1="755.3" x2="538.9" y2="767.9"/></g><g stroke="#8fae7c" stroke-width="0.9" fill="none"><line x1="527.8" y1="741.6" x2="551.7" y2="741.6"/><path d="M526.4,738.3000000000001 Q529.0,740.1 528.4,741.6 Q529.0,743.1 526.4,744.9 Q525.4,741.6 526.4,738.3000000000001 Z"/><path d="M553.1,738.3000000000001 Q550.5,740.1 551.1,741.6 Q550.5,743.1 553.1,744.9 Q554.1,741.6 553.1,738.3000000000001 Z"/></g>
<polygon points="808.4,715.4 832.4,728.8 832.4,755.3 808.4,769.5 785.1,755.3 785.1,728.8" fill="#ebebeb" stroke="#c2c2c2" stroke-width="1"/><g stroke="#bfbfbf" stroke-width="0.95" fill="none"><line x1="808.4" y1="715.4" x2="795.0" y2="734.0"/><line x1="808.4" y1="715.4" x2="822.6" y2="734.0"/><line x1="785.1" y1="728.8" x2="795.0" y2="734.0"/><line x1="832.4" y1="728.8" x2="822.6" y2="734.0"/><line x1="795.0" y1="734.0" x2="822.6" y2="734.0"/><line x1="795.0" y1="734.0" x2="808.4" y2="757.0"/><line x1="822.6" y1="734.0" x2="808.4" y2="757.0"/><line x1="795.0" y1="734.0" x2="785.1" y2="755.3"/><line x1="822.6" y1="734.0" x2="832.4" y2="755.3"/><line x1="808.4" y1="757.0" x2="785.1" y2="755.3"/><line x1="808.4" y1="757.0" x2="832.4" y2="755.3"/><line x1="808.4" y1="757.0" x2="808.4" y2="769.5"/></g>
<rect x="847.4" y="715.9" width="59.4" height="58.9" rx="8.5" fill="#010501"/>
<filter id="fc4" x="0" y="0" width="100%" height="100%" color-interpolation-filters="sRGB">
<feTurbulence type="fractalNoise" baseFrequency="0.2" numOctaves="3" seed="9" result="n"/>
<feColorMatrix in="n" type="matrix" values="0 0 0 0 0  0 0 0 0 0  0 0 0 0 0  1 0 0 0 0" result="a"/>
<feComponentTransfer in="a" result="t"><feFuncA type="gamma" amplitude="8" exponent="7" offset="-0.03"/></feComponentTransfer>
<feGaussianBlur in="t" stdDeviation="0.5" result="tb"/>
<feFlood flood-color="#38f838" result="g"/>
<feComposite in="g" in2="tb" operator="in" result="gg"/>
<feFlood flood-color="#010a01" result="bg"/>
<feMerge><feMergeNode in="bg"/><feMergeNode in="gg"/></feMerge>
<feComposite in2="SourceGraphic" operator="in"/>
</filter><rect x="990.4" y="715.9" width="59.6" height="58.9" rx="8.5" fill="#000" filter="url(#fc4)"/>
<polygon points="1087.4,715.9 1110.7,729.1 1110.7,755.3 1087.4,769.5 1064.2,755.3 1064.2,729.1" fill="#ebebeb" stroke="#c2c2c2" stroke-width="1"/><g stroke="#bfbfbf" stroke-width="0.95" fill="none"><line x1="1087.4" y1="715.9" x2="1074.1" y2="734.0"/><line x1="1087.4" y1="715.9" x2="1100.9" y2="734.0"/><line x1="1064.2" y1="729.1" x2="1074.1" y2="734.0"/><line x1="1110.7" y1="729.1" x2="1100.9" y2="734.0"/><line x1="1074.1" y1="734.0" x2="1100.9" y2="734.0"/><line x1="1074.1" y1="734.0" x2="1087.4" y2="757.0"/><line x1="1100.9" y1="734.0" x2="1087.4" y2="757.0"/><line x1="1074.1" y1="734.0" x2="1064.2" y2="755.3"/><line x1="1100.9" y1="734.0" x2="1110.7" y2="755.3"/><line x1="1087.4" y1="757.0" x2="1064.2" y2="755.3"/><line x1="1087.4" y1="757.0" x2="1110.7" y2="755.3"/><line x1="1087.4" y1="757.0" x2="1087.4" y2="769.5"/></g><g stroke="#8fae7c" stroke-width="0.9" fill="none"><line x1="1075" y1="743.3" x2="1100" y2="743.3"/><path d="M1073.6,740.0 Q1076.2,741.8 1075.6,743.3 Q1076.2,744.8 1073.6,746.5999999999999 Q1072.6,743.3 1073.6,740.0 Z"/><path d="M1101.4,740.0 Q1098.8,741.8 1099.4,743.3 Q1098.8,744.8 1101.4,746.5999999999999 Q1102.4,743.3 1101.4,740.0 Z"/></g>
</svg>
</body></html>
